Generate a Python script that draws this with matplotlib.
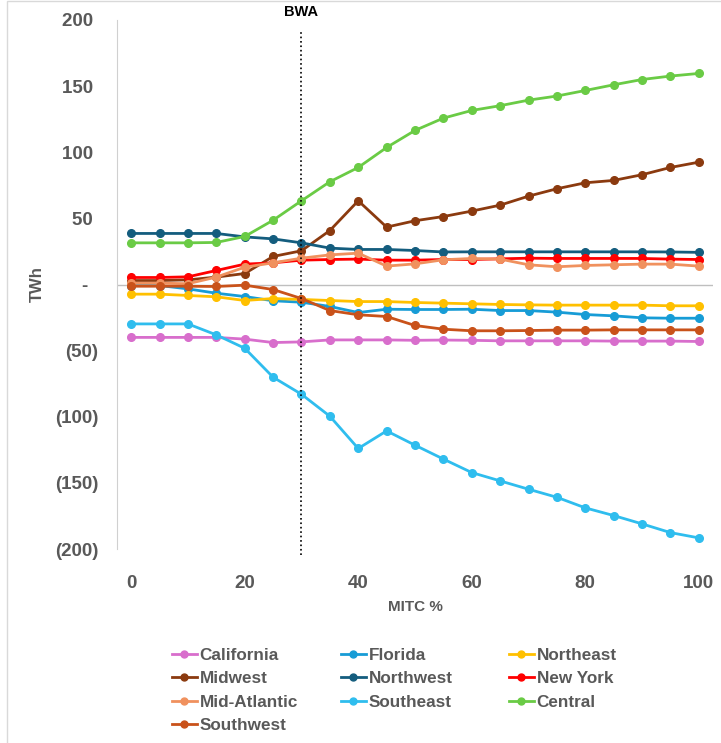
import numpy as np
import matplotlib.pyplot as plt
from matplotlib.lines import Line2D
from matplotlib.patches import Rectangle

# MITC % steps
mitc = list(range(0, 101, 5))

# TWh per region
california = [-40, -40, -40, -40, -41.3, -43.9, -43.4, -41.9, -41.9, -41.9, -42.2, -42.0, -42.2,
              -42.6, -42.6, -42.6, -42.6, -42.8, -42.8, -42.8, -43.1]
florida = [-0.8, -0.8, -3.3, -6.6, -9.1, -12.3, -13.4, -16.6, -21.2, -18.7, -18.9, -18.9, -18.7,
           -19.7, -19.7, -20.9, -22.7, -23.7, -25.2, -25.5, -25.5]
northeast = [-7.3, -7.3, -8.3, -9.3, -12.1, -10.6, -11.3, -12.1, -12.9, -12.9, -13.6, -14.1, -14.6,
             -15.1, -15.4, -15.6, -15.6, -15.6, -15.6, -16.1, -16.1]
midwest = [3.0, 3.0, 3.5, 5.6, 8.3, 21.2, 25.5, 40.8, 63.3, 43.4, 48.2, 51.4, 55.5,
           60.0, 66.8, 72.4, 76.9, 78.7, 83.0, 88.5, 92.5]
northwest = [38.6, 38.6, 38.6, 38.6, 36.0, 34.5, 31.5, 27.5, 26.5, 26.5, 25.7, 24.6, 24.7,
             24.7, 24.7, 24.7, 24.7, 24.7, 24.7, 24.6, 24.3]
new_york = [5.3, 5.3, 5.8, 10.6, 15.4, 16.4, 18.4, 18.9, 19.2, 18.4, 18.4, 18.9, 18.9,
            19.4, 19.9, 19.7, 19.7, 19.7, 19.7, 19.2, 18.9]
mid_atlantic = [1.0, 1.0, 0.6, 5.6, 13.1, 16.4, 19.9, 22.4, 23.7, 13.9, 15.6, 18.7, 19.7,
                19.2, 14.9, 13.4, 14.4, 14.9, 15.4, 15.4, 13.9]
southeast = [-29.8, -29.8, -29.8, -38.1, -48.2, -70.1, -83.0, -99.6, -124.0, -110.7, -121.5, -132.0,
             -142.2, -148.5, -154.8, -160.9, -168.9, -174.7, -181.0, -187.6, -191.6]
central = [31.5, 31.5, 31.5, 31.8, 36.3, 48.6, 63.3, 77.7, 88.5, 103.6, 116.5, 125.8, 131.6,
           135.2, 139.4, 142.5, 146.7, 151.0, 155.0, 157.6, 159.6]
southwest = [-1.3, -1.3, -1.3, -1.5, -0.5, -3.8, -10.6, -19.7, -22.9, -24.2, -31.0, -33.8, -35.0,
             -35.0, -34.8, -34.5, -34.5, -34.3, -34.3, -34.3, -34.3]

series = [
    ('California', california, '#D86ECC'),
    ('Florida', florida, '#179CD6'),
    ('Northeast', northeast, '#FFC000'),
    ('Midwest', midwest, '#8B3A0F'),
    ('Northwest', northwest, '#145D7E'),
    ('New York', new_york, '#FF0000'),
    ('Mid-Atlantic', mid_atlantic, '#F0915E'),
    ('Southeast', southeast, '#2FBDEE'),
    ('Central', central, '#6ACB45'),
    ('Southwest', southwest, '#C9521A'),
]

yticks = [200, 150, 100, 50, 0, -50, -100, -150, -200]
# accounting style: positives leave room for the ")" of negatives
ytick_labels = ['200 ', '150 ', '100 ', '50 ', '-  ', '(50)', '(100)', '(150)', '(200)']
xticks = [0, 20, 40, 60, 80, 100]

# legend columns as laid out in the reference
legend_cols = [['California', 'Midwest', 'Mid-Atlantic', 'Southwest'],
               ['Florida', 'Northwest', 'Southeast'],
               ['Northeast', 'New York', 'Central']]
legend_x = [172, 341, 509]

grey = '#595959'
font = 'Liberation Sans'

fig = plt.figure(figsize=(7.21, 7.43), dpi=100)
fig.patches.append(Rectangle((7 / 721, -0.1), 1.2, 1.1 - 0.7 / 743, transform=fig.transFigure,
                             fill=False, edgecolor='#D9D9D9', linewidth=1.0))
ax = fig.add_axes([117 / 721, 194 / 743, 596 / 721, 529 / 743])

lines = {}
for name, vals, col in series:
    ln, = ax.plot(mitc, vals, color=col, linewidth=2, marker='o', markersize=5.5, label=name)
    lines[name] = ln

ax.axhline(0, color='#BFBFBF', linewidth=1, zorder=0)
ax.axvline(30, ymin=-0.012, ymax=0.982, color='black', linestyle=':', linewidth=1.2, clip_on=False)
ax.text(30, 200.8, 'BWA', ha='center', va='bottom', fontsize=10.5, fontweight='bold',
        family=font, color='black')

ax.set_xlim(-2.5, 102.5)
ax.set_ylim(-200, 200)
ax.set_yticks(yticks)
ax.set_yticklabels(ytick_labels)
ax.set_xticks(xticks)
for spine in ['top', 'right', 'bottom']:
    ax.spines[spine].set_visible(False)
ax.spines['left'].set_color('#D0D0D0')
ax.tick_params(axis='both', length=0, labelsize=13.5, labelcolor=grey)
ax.tick_params(axis='y', pad=13.5)
ax.tick_params(axis='x', pad=19)
for lab in ax.get_xticklabels() + ax.get_yticklabels():
    lab.set_fontweight('bold')
    lab.set_family(font)

ax.set_xlabel('MITC %', fontsize=11, fontweight='bold', color=grey, family=font, labelpad=5.5)
ax.set_ylabel('TWh', fontsize=12, fontweight='bold', color=grey, family=font, labelpad=7)

for names, x0 in zip(legend_cols, legend_x):
    handles = [Line2D([], [], color=lines[n].get_color(), linewidth=2, marker='o', markersize=5)
               for n in names]
    leg = fig.legend(handles, names, loc='upper left', bbox_to_anchor=(x0 / 721, 1 - 648 / 743),
                     frameon=False, borderpad=0, borderaxespad=0, handlelength=1.44,
                     handletextpad=0.18, labelspacing=0.49,
                     prop={'family': font, 'weight': 'bold', 'size': 12.3})
    for t in leg.get_texts():
        t.set_color(grey)

fig.savefig('out.png', dpi=100)
